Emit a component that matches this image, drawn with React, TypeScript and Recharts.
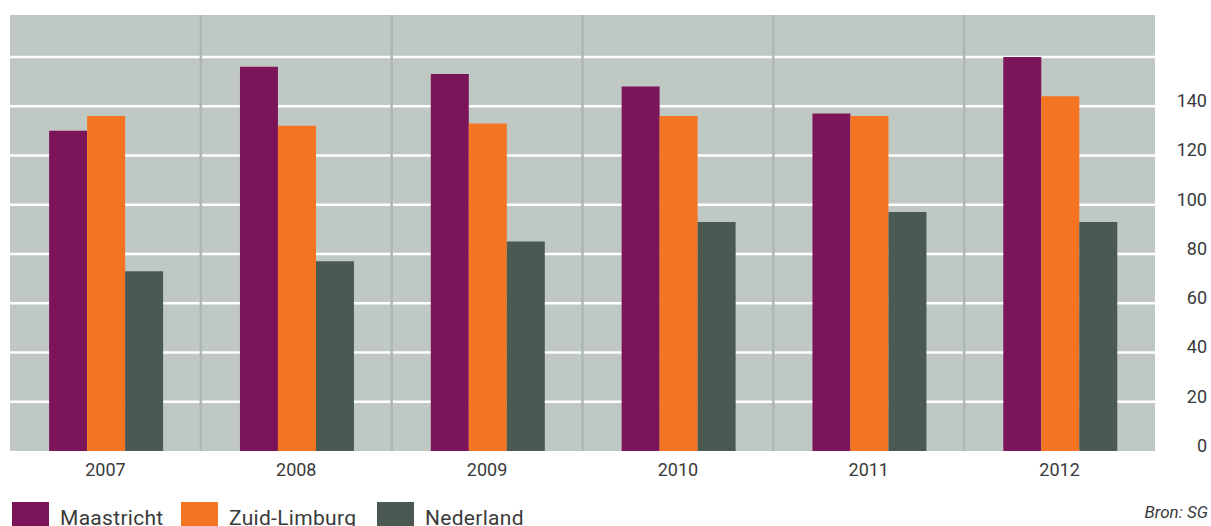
import React from 'react';
import { BarChart, Bar, XAxis, YAxis, CartesianGrid } from 'recharts';

const years = ['2007', '2008', '2009', '2010', '2011', '2012'];
const maastricht = [130, 156, 153, 148, 137, 160];
const zuidLimburg = [136, 132, 133, 136, 136, 144];
const nederland = [73, 77, 85, 93, 97, 93];
const yTicks = [0, 20, 40, 60, 80, 100, 120, 140, 160];
const gridValues = [20, 40, 60, 80, 100, 120, 140, 160];
const hiddenTick = 160;

const seriesNames = ['Maastricht', 'Zuid-Limburg', 'Nederland'];
const seriesKeys = ['maastricht', 'zuidLimburg', 'nederland'];
const seriesColors = ['#7b1459', '#f47421', '#4a5a52'];

const data = years.map((y, i) => ({
  year: y,
  maastricht: maastricht[i],
  zuidLimburg: zuidLimburg[i],
  nederland: nederland[i],
}));

const FONT = 'Roboto, "DejaVu Sans", sans-serif';

const YTick = (props: any) => {
  const { x, y, payload } = props;
  if (payload.value === hiddenTick) return null;
  return (
    <text x={x + 44} y={y} dy={1} textAnchor="end" fill="#3a3a3a" fontSize={18} fontFamily={FONT}>
      {payload.value}
    </text>
  );
};

const XTick = (props: any) => {
  const { x, y, payload } = props;
  return (
    <text x={x} y={y} dy={17} textAnchor="middle" fill="#3a3a3a" fontSize={18} fontFamily={FONT}>
      {payload.value}
    </text>
  );
};

const legendX = [12, 181, 377];

export default function App() {
  return (
    <div style={{ position: 'absolute', left: 0, top: 0, width: 1211, height: 526, overflow: 'hidden', background: '#fff' }}>
      <BarChart
        width={1211}
        height={526}
        data={data}
        margin={{ top: 15, right: 0, left: 10, bottom: 45 }}
        barCategoryGap="20.5%"
        barGap={0}
      >
        <CartesianGrid
          vertical={false}
          horizontalValues={gridValues}
          fill="#c0c8c3"
          fillOpacity={1}
          stroke="#ffffff"
          strokeWidth={2.5}
        />
        <CartesianGrid
          horizontal={false}
          stroke="#aeb8b2"
          strokeWidth={2.5}
          verticalCoordinatesGenerator={(p: any) =>
            [1, 2, 3, 4, 5].map((i) => p.offset.left + (i * p.offset.width) / years.length)
          }
        />
        <XAxis dataKey="year" height={30} tickLine={false} axisLine={false} tick={<XTick />} interval={0} />
        <YAxis
          orientation="right"
          width={56}
          domain={[0, 177]}
          ticks={yTicks}
          tickLine={false}
          axisLine={false}
          tick={<YTick />}
          interval={0}
        />
        {seriesKeys.map((k, i) => (
          <Bar key={k} dataKey={k} name={seriesNames[i]} fill={seriesColors[i]} isAnimationActive={false} />
        ))}
      </BarChart>
      {seriesNames.map((n, i) => (
        <div key={n} style={{ position: 'absolute', left: legendX[i], top: 502, display: 'flex', alignItems: 'flex-start' }}>
          <div style={{ width: 37, height: 37, background: seriesColors[i] }} />
          <div style={{ marginLeft: 11, marginTop: 3, fontFamily: FONT, fontSize: 21, color: '#3a3a3a', letterSpacing: 0.3, lineHeight: '26px', whiteSpace: 'nowrap' }}>
            {n}
          </div>
        </div>
      ))}
      <div style={{ position: 'absolute', right: 3, top: 502, fontFamily: FONT, fontSize: 17, fontStyle: 'italic', color: '#3a3a3a' }}>
        Bron: SG
      </div>
    </div>
  );
}
